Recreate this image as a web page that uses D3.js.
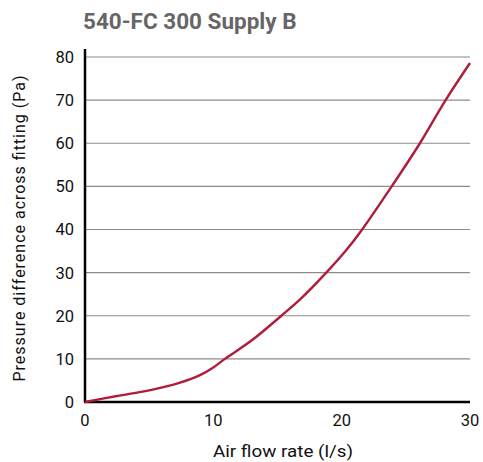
<!DOCTYPE html>
<html>
<head>
<meta charset="utf-8">
<script src="https://cdn.jsdelivr.net/npm/d3@7"></script>
<style>
  html, body { margin: 0; padding: 0; background: #fff; }
  svg { display: block; }
</style>
</head>
<body>
<svg id="chart"></svg>
<script>
// Pressure drop curve
const flowRate = [0, 2.5, 5, 7.4, 9, 10, 10.9, 13, 15.3, 16.8, 18.8, 20.3, 21.6, 23.9, 26.1, 28.1, 30];
const pressure = [0, 1.4, 2.7, 4.5, 6.3, 8.0, 10, 14.3, 20, 23.9, 30, 35, 40, 50, 60, 70, 78.6];
const xTicks = [0, 10, 20, 30];
const yTicks = [0, 10, 20, 30, 40, 50, 60, 70, 80];

const title = '540-FC 300 Supply B';
const xLabel = 'Air flow rate (l/s)';
const yLabel = 'Pressure difference across fitting (Pa)';

const W = 483, H = 462;
const margin = { top: 57, right: 13, bottom: 60, left: 85 };
const width = W - margin.left - margin.right;
const height = H - margin.top - margin.bottom;

const svg = d3.select('#chart').attr('width', W).attr('height', H);
const g = svg.append('g').attr('transform', `translate(${margin.left},${margin.top})`);

const x = d3.scaleLinear().domain([0, 30]).range([0, width]);
const y = d3.scaleLinear().domain([0, 80]).range([height, 0]);

const font = 'Roboto, "Open Sans", sans-serif';

// title
svg.append('text')
  .attr('x', 83)
  .attr('y', 29)
  .style('font-family', font)
  .style('font-weight', 700)
  .style('font-size', '22.5px')
  .style('fill', '#666')
  .text(title);

// grid lines
g.selectAll('line.grid')
  .data(yTicks.filter((d) => d > 0))
  .join('line')
  .attr('class', 'grid')
  .attr('x1', 0)
  .attr('x2', width)
  .attr('y1', (d) => y(d))
  .attr('y2', (d) => y(d))
  .style('stroke', '#8c8c8c')
  .style('stroke-width', 1.2);

// y tick labels
g.selectAll('text.ytick')
  .data(yTicks)
  .join('text')
  .attr('class', 'ytick')
  .attr('x', -11)
  .attr('y', (d) => y(d))
  .attr('dy', '0.36em')
  .attr('text-anchor', 'end')
  .style('font-family', font)
  .style('font-size', '16.5px')
  .style('fill', '#111')
  .text((d) => d);

// x tick labels
g.selectAll('text.xtick')
  .data(xTicks)
  .join('text')
  .attr('class', 'xtick')
  .attr('x', (d) => x(d))
  .attr('y', height + 24)
  .attr('text-anchor', 'middle')
  .style('font-family', font)
  .style('font-size', '16.5px')
  .style('fill', '#111')
  .text((d) => d);

// axes lines
g.append('line')
  .attr('x1', 0).attr('x2', 0)
  .attr('y1', y(80) - 8).attr('y2', height)
  .style('stroke', '#000')
  .style('stroke-width', 2.5);
g.append('line')
  .attr('x1', -1).attr('x2', width)
  .attr('y1', height).attr('y2', height)
  .style('stroke', '#000')
  .style('stroke-width', 2.5);

// curve
const line = d3.line()
  .x((d, i) => x(flowRate[i]))
  .y((d) => y(d))
  .curve(d3.curveCatmullRom.alpha(0.5));

g.append('path')
  .attr('d', line(pressure))
  .style('fill', 'none')
  .style('stroke', '#b01c3c')
  .style('stroke-width', 2.4);

// axis titles
svg.append('text')
  .attr('x', 283)
  .attr('y', 457)
  .attr('text-anchor', 'middle')
  .attr('textLength', 140)
  .attr('lengthAdjust', 'spacingAndGlyphs')
  .style('font-family', font)
  .style('font-size', '16px')
  .style('fill', '#111')
  .text(xLabel);

svg.append('text')
  .attr('transform', 'translate(24.5,228.5) rotate(-90)')
  .attr('text-anchor', 'middle')
  .attr('textLength', 306)
  .attr('lengthAdjust', 'spacing')
  .style('font-family', font)
  .style('font-size', '16px')
  .style('fill', '#111')
  .text(yLabel);
</script>
</body>
</html>
